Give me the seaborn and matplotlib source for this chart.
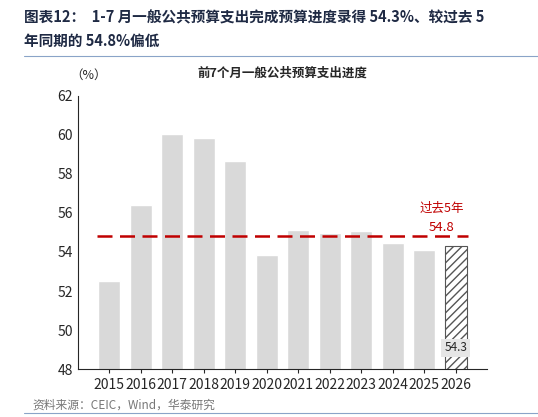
import matplotlib
matplotlib.use("Agg")
import matplotlib.pyplot as plt
import seaborn as sns
import pandas as pd

years = ["2015","2016","2017","2018","2019","2020","2021","2022","2023","2024","2025","2026"]
values = [52.5, 56.4, 60.05, 59.85, 58.65, 53.85, 55.15, 54.95, 55.1, 54.45, 54.1, 54.3]
avg5 = 54.8

sns.set_style("white")
plt.rcParams['font.family'] = ['Noto Sans CJK SC', 'DejaVu Sans']
plt.rcParams['hatch.color'] = '#aaaaaa'

fig = plt.figure(figsize=(5.38, 4.17), dpi=100)
ax = fig.add_axes([0.145, 0.115, 0.76, 0.655])
df = pd.DataFrame({"year": years, "v": values})
sns.barplot(data=df, x="year", y="v", color="#d9d9d9", width=0.7, ax=ax, saturation=1)
last = ax.patches[-1]
last.set_facecolor("white"); last.set_edgecolor("#555555"); last.set_hatch("////"); last.set_linewidth(0.8)
ax.set_ylim(48, 62)
ax.set_yticks(range(48, 63, 2))
ax.set_xlabel(""); ax.set_ylabel("")
ax.plot([-0.4, 11.4], [avg5, avg5], color="#c00000", lw=1.8, ls=(0, (6, 3)))
ax.text(10.55, 56.05, "过去5年", color="#c00000", fontsize=9, ha="center")
ax.text(10.55, 55.1, f"{avg5}", color="#c00000", fontsize=9.5, ha="center")
ax.text(11, 48.9, f"{values[-1]}", fontsize=8.5, ha="center",
        bbox=dict(facecolor="#e6e6e6", edgecolor="none", pad=2))
for s in ["top", "right"]:
    ax.spines[s].set_visible(False)
ax.tick_params(axis="both", labelsize=10, length=0)
ax.tick_params(axis="x", length=3, direction="out", bottom=True)
ax.set_title("前7个月一般公共预算支出进度", fontsize=9, fontweight="bold", pad=14)
fig.text(0.13, 0.81, "（%）", fontsize=9)
fig.text(0.045, 0.945, "图表12：  1-7 月一般公共预算支出完成预算进度录得 54.3%、较过去 5", fontsize=10.5, fontweight="bold", color="#1f2a44")
fig.text(0.045, 0.89, "年同期的 54.8%偏低", fontsize=10.5, fontweight="bold", color="#1f2a44")
fig.add_artist(plt.Line2D([0.045, 1.0], [0.865, 0.865], color="#8aa4c8", lw=0.8))
fig.add_artist(plt.Line2D([0.045, 1.0], [0.01, 0.01], color="#8aa4c8", lw=0.8))
fig.text(0.06, 0.02, "资料来源：CEIC，Wind，华泰研究", fontsize=8.5, color="#777777")
fig.savefig("out.png", dpi=100)
